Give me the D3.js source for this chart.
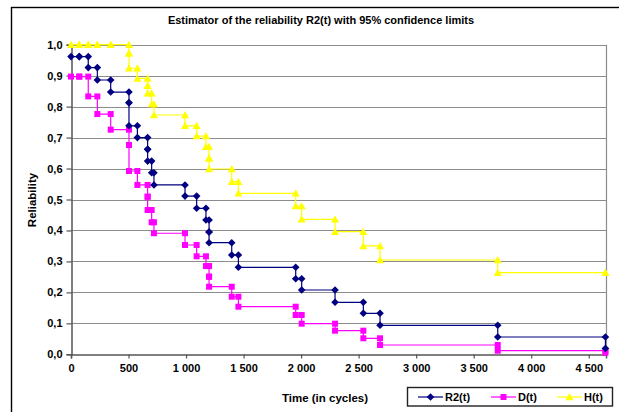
<!DOCTYPE html>
<html>
<head>
<meta charset="utf-8">
<script src="https://cdn.jsdelivr.net/npm/d3@7"></script>
<style>
  html, body { margin: 0; padding: 0; background: #fff; }
  svg { display: block; font-family: "Liberation Sans", Arial, sans-serif; }
</style>
</head>
<body>
<svg id="chart" width="619" height="412"></svg>
<script>
// Event times (cycles); repeated times hold several failures at once
const times = [0, 72, 150, 229, 345, 504, 504, 577, 666, 666, 701, 721, 991, 1092,
  1173, 1200, 1200, 1397, 1455, 1953, 2005, 2295, 2541, 2686, 3709, 4645];

// Reliability estimate R2(t) after each event
const r2Values = [0.9615, 0.9615, 0.926, 0.886, 0.847, 0.8127, 0.738, 0.700, 0.662, 0.624,
  0.5866, 0.547, 0.511, 0.4715, 0.434, 0.395, 0.3605, 0.3207, 0.281, 0.244, 0.2077,
  0.168, 0.1324, 0.0937, 0.0559, 0.019];

// Lower 95% confidence limit D(t)
const dValues = [0.897, 0.897, 0.833, 0.776, 0.7255, 0.676, 0.592, 0.547, 0.509, 0.466,
  0.4264, 0.391, 0.353, 0.3165, 0.285, 0.2507, 0.2183, 0.186, 0.1537, 0.127, 0.0989,
  0.0763, 0.0517, 0.030, 0.0116, 0.005];

// Upper 95% confidence limit H(t)
const hValues = [1, 1, 1, 1, 1, 0.972, 0.924, 0.891, 0.867, 0.843, 0.808, 0.773, 0.738,
  0.705, 0.670, 0.633, 0.5985, 0.5575, 0.520, 0.479, 0.436, 0.396, 0.350, 0.3046,
  0.2636, 0.2636];

const xTicks = [0, 500, 1000, 1500, 2000, 2500, 3000, 3500, 4000, 4500];
const yTicks = [0, 0.1, 0.2, 0.3, 0.4, 0.5, 0.6, 0.7, 0.8, 0.9, 1.0];

const seriesNames = ["R2(t)", "D(t)", "H(t)"];
const seriesColors = ["#000080", "#FF00FF", "#FFFF00"];
const seriesShapes = ["diamond", "square", "triangle"];
const seriesValues = [r2Values, dValues, hValues];

const locale = d3.formatLocale({ decimal: ",", thousands: " ", grouping: [3], currency: ["", ""] });
const fmtX = locale.format(",d");
const fmtY = locale.format(".1f");

const svg = d3.select("#chart");
const plot = { left: 71, top: 44.7, right: 606, bottom: 354.3 };

const x = d3.scaleLinear().domain([0, 4650]).range([plot.left, plot.right]);
const y = d3.scaleLinear().domain([0, 1]).range([plot.bottom, plot.top]);

// Chart frame
svg.append("rect")
  .attr("x", 11.5).attr("y", 7.5).attr("width", 640).attr("height", 440)
  .attr("fill", "#fff").attr("stroke", "#000").attr("stroke-width", 1.4);

// Title
svg.append("text")
  .attr("x", 321).attr("y", 24)
  .attr("text-anchor", "middle")
  .attr("font-size", 11).attr("font-weight", "bold")
  .text("Estimator of the reliability R2(t) with 95% confidence limits");

// Plot area: gridlines and right border
svg.append("g").selectAll("line")
  .data(yTicks.filter(d => d > 0))
  .join("line")
  .attr("x1", plot.left).attr("x2", plot.right)
  .attr("y1", d => Math.round(y(d)) + 0.5).attr("y2", d => Math.round(y(d)) + 0.5)
  .attr("stroke", "#8c8c8c").attr("stroke-width", 1.2);

svg.append("line")
  .attr("x1", plot.right + 0.5).attr("x2", plot.right + 0.5)
  .attr("y1", y(1)).attr("y2", plot.bottom)
  .attr("stroke", "#8c8c8c").attr("stroke-width", 1.2);

// Axes
const yAxis = d3.axisLeft(y).tickValues(yTicks).tickFormat(fmtY).tickSize(5).tickPadding(4);
const xAxis = d3.axisBottom(x).tickValues(xTicks).tickFormat(fmtX).tickSize(4).tickPadding(6);

const gy = svg.append("g").attr("transform", `translate(${Math.round(plot.left) + 0.5},0)`).call(yAxis);
const gx = svg.append("g").attr("transform", `translate(0,${Math.round(plot.bottom) + 0.5})`).call(xAxis);

[gx, gy].forEach(g => {
  g.select(".domain").attr("stroke", "#555").attr("stroke-width", 1.5);
  g.selectAll(".tick line").attr("stroke", "#555").attr("stroke-width", 1.2);
  g.selectAll(".tick text")
    .attr("font-size", 11).attr("font-weight", "bold")
    .attr("font-family", "'Liberation Sans', Arial, sans-serif").attr("fill", "#000");
});

// Axis titles
svg.append("text")
  .attr("x", 325).attr("y", 402)
  .attr("text-anchor", "middle")
  .attr("font-size", 11.5).attr("font-weight", "bold")
  .text("Time (in cycles)");

svg.append("text")
  .attr("transform", "translate(36,200) rotate(-90)")
  .attr("text-anchor", "middle")
  .attr("font-size", 11.5).attr("font-weight", "bold")
  .text("Reliability");

// Marker shapes
function markerPath(shape) {
  if (shape === "diamond") return "M0,-3.8L3.8,0L0,3.8L-3.8,0Z";
  if (shape === "square") return "M-3,-3H3V3H-3Z";
  return "M0,-4L4,3.2H-4Z";
}

// Build step points: each event adds the level before and after the drop
function stepPoints(vals) {
  const pts = [];
  times.forEach((t, i) => {
    if (i > 0) pts.push([t, vals[i - 1]]);
    pts.push([t, vals[i]]);
  });
  return pts;
}

const line = d3.line().x(d => x(d[0])).y(d => y(d[1]));

// Draw H first, then D, then R2 on top
[2, 1, 0].forEach(k => {
  const pts = stepPoints(seriesValues[k]);
  const g = svg.append("g");
  g.append("path")
    .attr("d", line(pts))
    .attr("fill", "none")
    .attr("stroke", seriesColors[k])
    .attr("stroke-width", 1.2);
  g.selectAll("path.m")
    .data(pts)
    .join("path")
    .attr("class", "m")
    .attr("transform", d => `translate(${x(d[0])},${y(d[1])})`)
    .attr("d", markerPath(seriesShapes[k]))
    .attr("fill", seriesColors[k]);
});

// Legend
const legend = svg.append("g");
legend.append("rect")
  .attr("x", 407.5).attr("y", 387.5).attr("width", 205).attr("height", 18.5)
  .attr("fill", "#fff").attr("stroke", "#222").attr("stroke-width", 1.4);

const legendX = [418, 491, 557];
seriesNames.forEach((name, k) => {
  const lx = legendX[k];
  legend.append("line")
    .attr("x1", lx).attr("x2", lx + 25)
    .attr("y1", 397).attr("y2", 397)
    .attr("stroke", seriesColors[k]).attr("stroke-width", 1.2);
  legend.append("path")
    .attr("transform", `translate(${lx + 12.5},397)`)
    .attr("d", markerPath(seriesShapes[k]))
    .attr("fill", seriesColors[k]);
  legend.append("text")
    .attr("x", lx + 27).attr("y", 401)
    .attr("font-size", 11).attr("font-weight", "bold")
    .text(name);
});
</script>
</body>
</html>
